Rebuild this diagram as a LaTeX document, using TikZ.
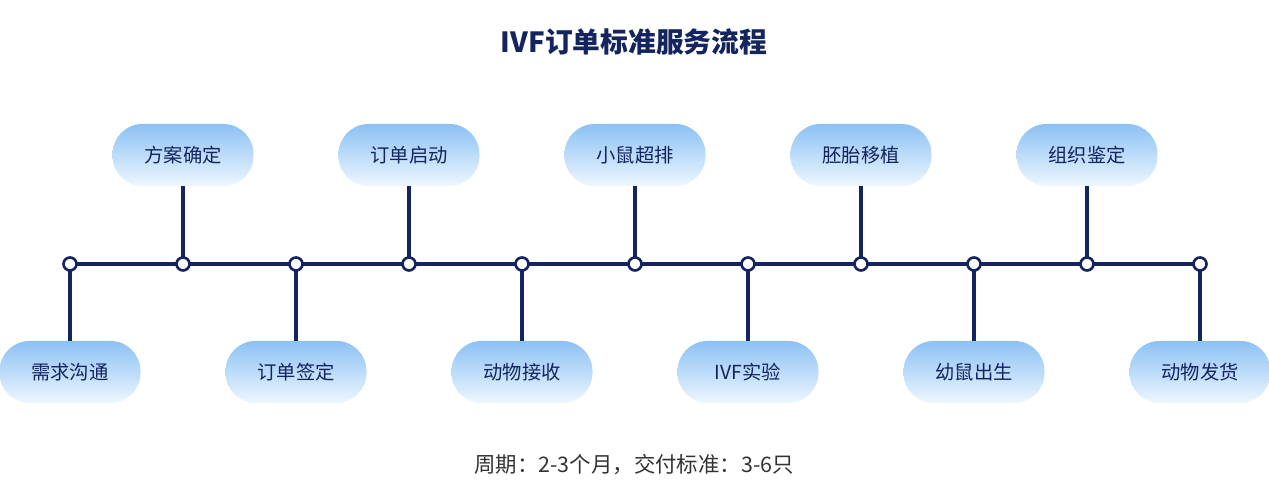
\documentclass[tikz,border=0pt]{standalone}
\usepackage{fontspec}
\setmainfont{Noto Sans CJK SC}
\definecolor{navy}{HTML}{13245E}
\definecolor{ptop}{HTML}{8CC1F4}
\definecolor{pbot}{HTML}{EEF7FF}
\begin{document}
\begin{tikzpicture}[x=0.02cm,y=-0.02cm,
  pill/.style={rounded corners=0.6cm,minimum width=141*0.02cm,minimum height=62*0.02cm,
    top color=ptop,bottom color=pbot,draw=none,text=navy,font=\fontsize{11}{13}\selectfont,inner sep=0pt},
  dot/.style={circle,draw=navy,fill=white,line width=1.5pt,minimum size=13*0.02cm,inner sep=0pt},
  conn/.style={draw=navy,line width=2pt}]
\useasboundingbox (0,0) rectangle (1269,502);
\node[font=\fontsize{15.8}{18}\selectfont\bfseries,text=navy] (title) at (634,42) {IVF订单标准服务流程};
\node[font=\fontsize{12.2}{14}\selectfont,text=black!80] (foot) at (634,465) {周期：2-3个月，交付标准：3-6只};
\foreach \i in {0,...,10} \coordinate (c\i) at (70+113*\i,264);
\draw[conn] (c0) -- (c10);
\foreach \i/\t in {1/方案确定,3/订单启动,5/小鼠超排,7/胚胎移植,9/组织鉴定} {
  \node[pill] (p\i) at (70+113*\i,155) {\t};
  \draw[conn] (p\i.south) -- (c\i);
}
\foreach \i/\t in {0/需求沟通,2/订单签定,4/动物接收,6/IVF实验,8/幼鼠出生,10/动物发货} {
  \node[pill] (p\i) at (70+113*\i,372) {\t};
  \draw[conn] (p\i.north) -- (c\i);
}
\foreach \i in {0,...,10} \node[dot] (d\i) at (c\i) {};
\end{tikzpicture}
\end{document}
